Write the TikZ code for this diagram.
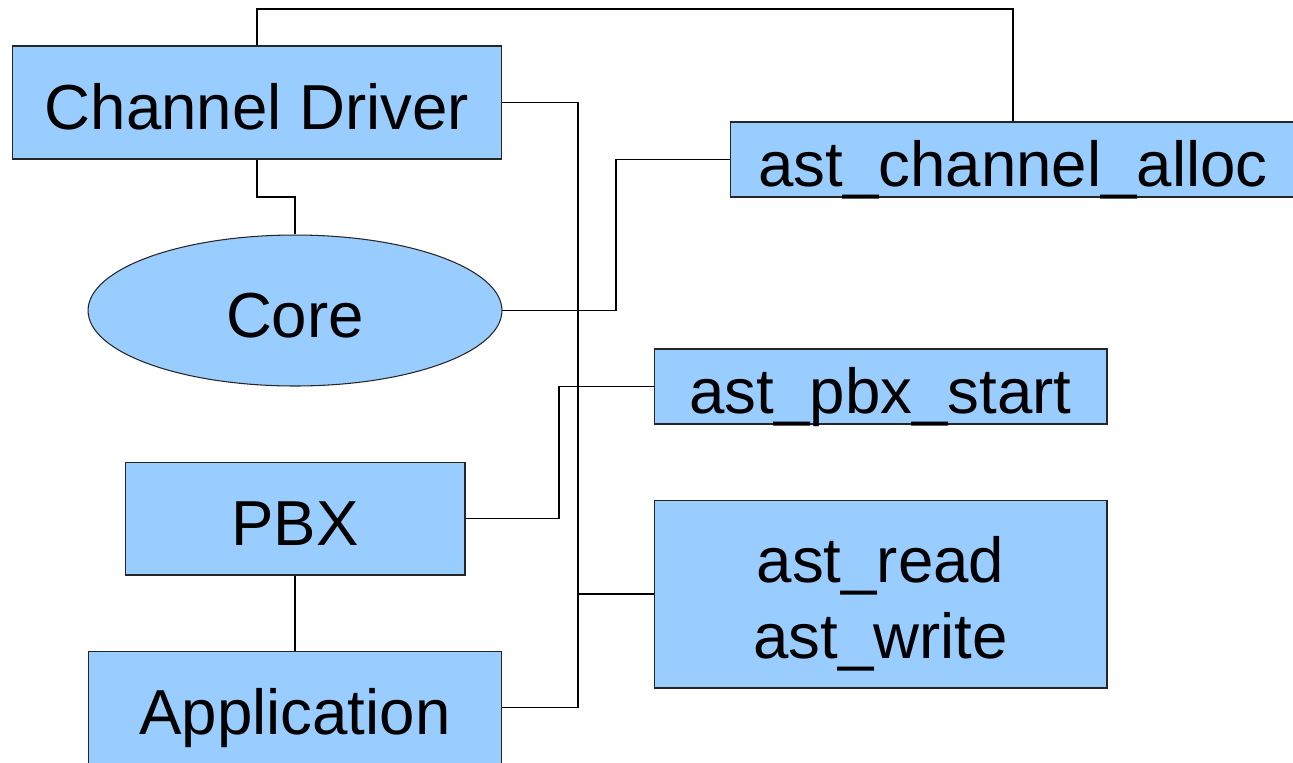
\documentclass[tikz,border=0pt]{standalone}
\usepackage{fontspec}
\setmainfont{Liberation Sans}
\usetikzlibrary{shapes.geometric}
\definecolor{boxblue}{HTML}{99CCFF}
\tikzset{
  blk/.style={draw=black!85, line width=0.6pt, fill=boxblue, inner sep=0pt, align=center,
    font=\fontsize{36.2}{42.7}\selectfont, text height=1.06cm, text depth=0cm},
  oval/.style={blk, ellipse},
  wire/.style={draw=black, line width=0.6pt}
}
\begin{document}
\begin{tikzpicture}[x=0.02cm, y=-0.02cm]
\useasboundingbox (0,0) rectangle (1293,762);
\clip (0,0) rectangle (1293,762);
\coordinate (ytop) at (0,9);
\coordinate (ymid) at (0,197);
\coordinate (x616) at (616,0);
\coordinate (x559) at (559,0);
\coordinate (x578) at (578,0);

\node[blk, minimum width=9.8cm, minimum height=2.26cm] (cd) at (257,102.5) {Channel Driver};
\node[blk, minimum width=11.32cm, minimum height=1.5cm] (alloc) at (1013,159.5) {ast\_channel\_alloc};
\node[oval, minimum width=8.28cm, minimum height=3.02cm] (core) at (295,310.5) {Core};
\node[blk, minimum width=9.06cm, minimum height=1.5cm] (pbxs) at (880.5,386.5) {ast\_pbx\_start};
\node[blk, minimum width=6.8cm, minimum height=2.26cm] (pbx) at (295,518.5) {PBX};
\node[blk, minimum width=9.06cm, minimum height=3.76cm, text height=2.56cm] (rw) at (880.5,594) {ast\_read\\ast\_write};
\node[blk, minimum width=8.28cm, minimum height=2.26cm] (app) at (295,707.5) {Application};

\draw[wire] (cd.north) -- (cd.north |- ytop) -| (alloc.north);
\draw[wire] (cd.south) -- (cd.south |- ymid) -| (core.north);
\draw[wire] (core.east) -| (x616 |- alloc.west) -- (alloc.west);
\draw[wire] (pbx.east) -| (x559 |- pbxs.west) -- (pbxs.west);
\draw[wire] (cd.east) -| (x578 |- app.east) -- (app.east);
\draw[wire] (cd.east) -| (x578 |- rw.west) -- (rw.west);
\draw[wire] (pbx.south) -- (app.north);
\end{tikzpicture}
\end{document}
